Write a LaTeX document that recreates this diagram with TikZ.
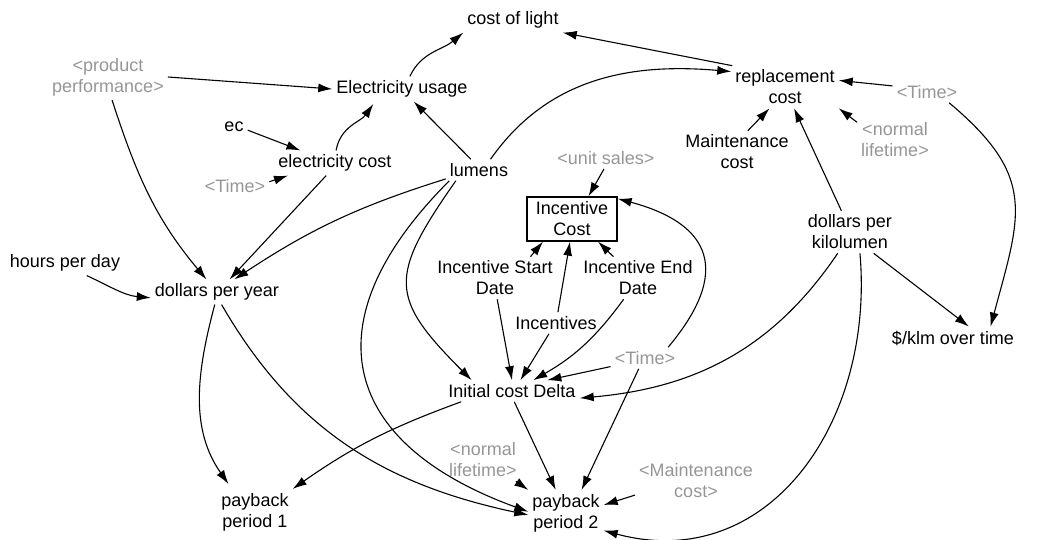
\documentclass[tikz,border=0pt]{standalone}
\usepackage{fontspec}
\setmainfont{Liberation Sans}
\usetikzlibrary{arrows.meta}
\definecolor{ghosttext}{RGB}{150,150,150}
\begin{document}
\begin{tikzpicture}[x=1pt,y=-1pt,
  var/.style={align=center, inner sep=4pt, font=\fontsize{18}{21}\selectfont},
  ghost/.style={var, text=ghosttext},
  stock/.style={var, draw, line width=1.3pt, minimum width=90pt, minimum height=44pt, inner sep=0pt},
  link/.style={line width=1.1pt, -{Latex[length=14pt,width=9pt]}},
]
\useasboundingbox (0,0) rectangle (1050,540);

% variables
\node[var]   (col)  at (513,20)  {cost of light};
\node[var]   (eu)   at (402,89)  {Electricity usage};
\node[ghost] (pp)   at (108,77)  {<product\\performance>};
\node[var]   (ec)   at (234,127) {ec};
\node[var]   (ecost) at (335,163) {electricity cost};
\node[ghost] (t1)   at (235,186) {<Time>};
\node[var]   (lum)  at (479,170) {lumens};
\node[ghost] (us)   at (606,158) {<unit sales>};
\node[stock] (ic)   at (572,219) {Incentive\\Cost};
\node[var]   (isd)  at (495,278) {Incentive Start\\Date};
\node[var]   (ied)  at (638,278) {Incentive End\\Date};
\node[var]   (inc)  at (556,323) {Incentives};
\node[ghost] (t2)   at (645,358) {<Time>};
\node[var]   (icd)  at (512,391) {Initial cost Delta};
\node[var]   (rc)   at (785,87)  {replacement\\cost};
\node[ghost] (t3)   at (927,92)  {<Time>};
\node[var]   (mc)   at (737,152) {Maintenance\\cost};
\node[ghost] (nl1)  at (895,140) {<normal\\lifetime>};
\node[var]   (dpk)  at (850,232) {dollars per\\kilolumen};
\node[var]   (klm)  at (953,338) {\$/klm over time};
\node[var]   (hpd)  at (65,263)  {hours per day};
\node[var]   (dpy)  at (217,292) {dollars per year};
\node[var]   (pb1)  at (255,512) {payback\\period 1};
\node[ghost] (nl2)  at (483,460) {<normal\\lifetime>};
\node[var]   (pb2)  at (566,513) {payback\\period 2};
\node[ghost] (mc2)  at (696,481) {<Maintenance\\cost>};

% links
\draw[link] (pp.east) -- (eu.west);
\draw[link] (eu.58) to[out=65,in=220] (col.south west);
\draw[link] (rc.158) -- (col.south east);
\draw[link] (lum.43) to[out=55,in=175] (rc.164);
\draw[link] (ec.-13) -- (ecost.160);
\draw[link] (t1.7) -- (ecost.195);
\draw[link,shorten >=3pt] (ecost.85) to[out=80,in=235] (eu.205);
\draw[link] (lum.127) -- (eu.-47);
\draw[link] (ecost.235) -- (dpy.45);
\draw[link] (lum.195) to[bend right=8] (dpy.36);
\draw[link] (pp.-80) to[out=-72,in=130] (dpy.130);
\draw[link] (hpd.-30) to[out=-25,in=175] (dpy.185);
\draw[link,shorten >=6pt] (dpy.-100) to[out=-105,in=125] (pb1.135);
\draw[link] (dpy.-70) to[out=-60,in=168] (pb2.183);
\draw[link] (lum.200) to[out=225,in=160,looseness=1.5] (pb2.178);
\draw[link] (lum.205) to[out=235,in=135,looseness=1.5] (icd.165);
\draw[link] (icd.192) to[out=200,in=35] (pb1.north east);
\draw[link] (icd.-78) -- (pb2.114);
\draw[link] (t2.240) -- (pb2.56);
\draw[link] (nl2.-33) -- (pb2.north west);
\draw[link] (mc2.193) -- (pb2.12);
\draw[link] (dpk.-65) to[out=-85,in=-15,looseness=1.15] (pb2.-25);
\draw[link] (dpk.240) to[out=236,in=5] (icd.-6);
\draw[link] (dpk.-42) -- (klm.36);
\draw[link] (t3.-26) to[out=-40,in=75,looseness=1.3] (klm.17);
\draw[link] (t3.170) -- (rc.7);
\draw[link] (nl1.155) -- (rc.south east);
\draw[link] (mc.63) -- (rc.234);
\draw[link] (dpk.112) -- (rc.-67);
\draw[link] (us.-100) -- (ic.54);
\draw[link] (isd.31) -- (ic.218);
\draw[link] (inc.80) -- (ic.265);
\draw[link] (ied.139) -- (ic.-41);
\draw[link] (t2.25) to[out=50,in=-15,looseness=1.6] (ic.24);
\draw[link] (t2.194) -- (icd.17);
\draw[link] (isd.-84) -- (icd.north);
\draw[link] (inc.237) -- (icd.52);
\draw[link] (ied.236) to[bend left=12] (icd.27);
\end{tikzpicture}
\end{document}
